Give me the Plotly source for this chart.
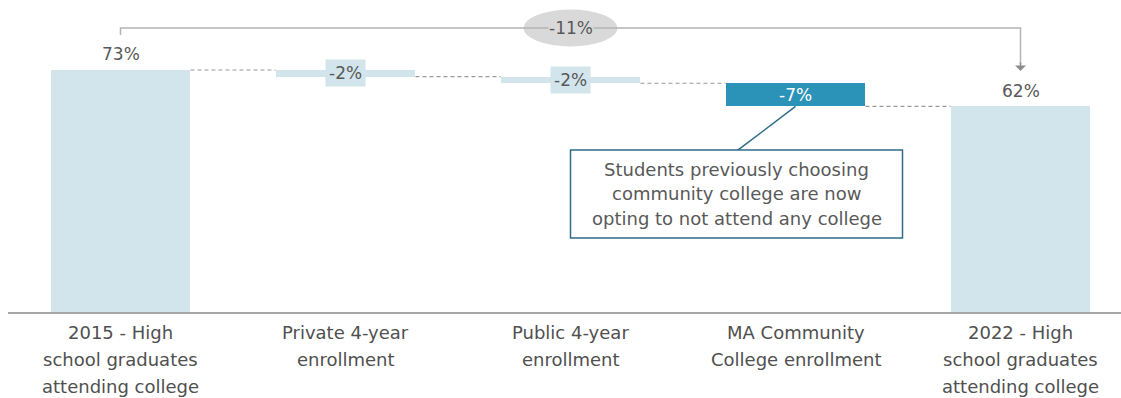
import plotly.graph_objects as go

# Waterfall data: starting share, change by sector, ending share (percent)
categories = [
    ["2015 - High", "school graduates", "attending college"],
    ["Private 4-year", "enrollment"],
    ["Public 4-year", "enrollment"],
    ["MA Community", "College enrollment"],
    ["2022 - High", "school graduates", "attending college"],
]
start_value = 73
changes = [-2, -2, -7]
end_value = 62
callout_lines = [
    "Students previously choosing",
    "community college are now",
    "opting to not attend any college",
]

LIGHT = "#D2E5EC"
DARK = "#2A93B7"
TEXT = "#595959"
TICK_TEXT = "#505050"
FONT = "DejaVu Sans"
BAR_W = 0.622
VAL_SIZE = 17

# Build bar bases / heights from the data
levels = [start_value]
for c in changes:
    levels.append(levels[-1] + c)

xs = list(range(len(categories)))
bases = [0] + levels[:-1] + [0]
heights = [start_value] + changes + [end_value]
colors = [LIGHT, LIGHT, LIGHT, DARK, LIGHT]

fig = go.Figure()
fig.add_trace(go.Bar(
    x=xs, y=heights, base=bases, width=BAR_W,
    marker=dict(color=colors, line=dict(width=0)),
    hoverinfo="skip", showlegend=False,
))

# Dashed connectors between neighbouring bars
cx, cy = [], []
for i, lv in enumerate(levels):
    cx += [i + BAR_W / 2, i + 1 - BAR_W / 2, None]
    cy += [lv, lv, None]
fig.add_trace(go.Scatter(
    x=cx, y=cy, mode="lines",
    line=dict(color="#9A9A9A", width=1.2, dash="4px,3px"),
    hoverinfo="skip", showlegend=False,
))

annotations = []

# Category labels, one annotation per line
for i, lines in enumerate(categories):
    for j, line in enumerate(lines):
        annotations.append(dict(
            x=i, xref="x", y=0, yref="paper", yanchor="middle",
            yshift=-20 - 27 * j, text=line, showarrow=False,
            font=dict(family=FONT, size=18, color=TICK_TEXT),
        ))

# Total bar labels
annotations.append(dict(
    x=0, y=start_value, text=f"{start_value}%", showarrow=False,
    yanchor="middle", yshift=16, font=dict(family=FONT, size=VAL_SIZE, color=TEXT),
))
annotations.append(dict(
    x=4, y=end_value, text=f"{end_value}%", showarrow=False,
    yanchor="middle", yshift=15, font=dict(family=FONT, size=VAL_SIZE, color=TEXT),
))

# Change labels
for k, c in enumerate(changes):
    i = k + 1
    mid = levels[k] + c / 2
    if i == 3:
        annotations.append(dict(
            x=i, y=mid, text=f"{c}%", showarrow=False, yanchor="middle",
            font=dict(family=FONT, size=VAL_SIZE, color="white"),
        ))
    else:
        annotations.append(dict(
            x=i, y=mid, text=f"{c}%", showarrow=False, yanchor="middle",
            bgcolor=LIGHT, borderpad=3,
            font=dict(family=FONT, size=VAL_SIZE, color=TEXT),
        ))

# Overall change bracket
BRACKET_Y = 1 - 28 / 312
total_change = end_value - start_value
shapes = [
    dict(type="circle", xref="x", xsizemode="pixel", xanchor=2, x0=-47, x1=47,
         yref="paper", ysizemode="pixel", yanchor=BRACKET_Y, y0=-18.5, y1=18.5,
         fillcolor="#D9D9D9", line=dict(width=0), layer="above"),
    dict(type="path", xref="x", yref="paper",
         path=f"M 0,{1 - 35 / 312} L 0,{BRACKET_Y} L 4,{BRACKET_Y} L 4,{1 - 64 / 312}",
         line=dict(color="#B4B4B4", width=1.5)),
    # callout leader line
    dict(type="line", xref="x", xsizemode="pixel", xanchor=3, x0=0, x1=-58,
         yref="y", ysizemode="pixel", yanchor=end_value, y0=0, y1=-44,
         line=dict(color="#2F6C8A", width=1.5)),
    # callout box
    dict(type="rect", xref="x", xsizemode="pixel", xanchor=3, x0=-225, x1=107,
         yref="paper", ysizemode="pixel", yanchor=0, y0=74, y1=162,
         fillcolor="white", line=dict(color="#2F6C8A", width=1.5)),
]
annotations.append(dict(
    x=2, xref="x", y=BRACKET_Y, yref="paper", yanchor="middle",
    text=f"{total_change}%", showarrow=False, bgcolor="#D9D9D9", borderpad=0,
    font=dict(family=FONT, size=VAL_SIZE, color=TEXT),
))
annotations.append(dict(
    x=4, xref="x", y=1 - 71 / 312, yref="paper", text="", showarrow=True,
    ax=0, ay=-10, arrowhead=1, arrowsize=1.2, arrowwidth=1.5,
    arrowcolor="#8C8C8C", standoff=0,
))

# Callout text
for j, line in enumerate(callout_lines):
    annotations.append(dict(
        x=3, xref="x", xshift=-59, y=0, yref="paper", yanchor="middle",
        yshift=143 - 24.5 * j, text=line, showarrow=False,
        font=dict(family=FONT, size=18, color=TEXT),
    ))

fig.update_layout(
    width=1121, height=398,
    margin=dict(l=8, r=0, t=0, b=86),
    paper_bgcolor="white", plot_bgcolor="white",
    bargap=0, showlegend=False,
    xaxis=dict(range=[-0.5, -0.5 + 1113 / 225], showgrid=False, zeroline=False,
               showticklabels=False, ticks="", showline=True,
               linecolor="#A6A6A6", linewidth=1.5, fixedrange=True),
    yaxis=dict(range=[0, 312 / 3.315], visible=False, fixedrange=True),
    shapes=shapes, annotations=annotations,
)

fig.write_html("out.html")
